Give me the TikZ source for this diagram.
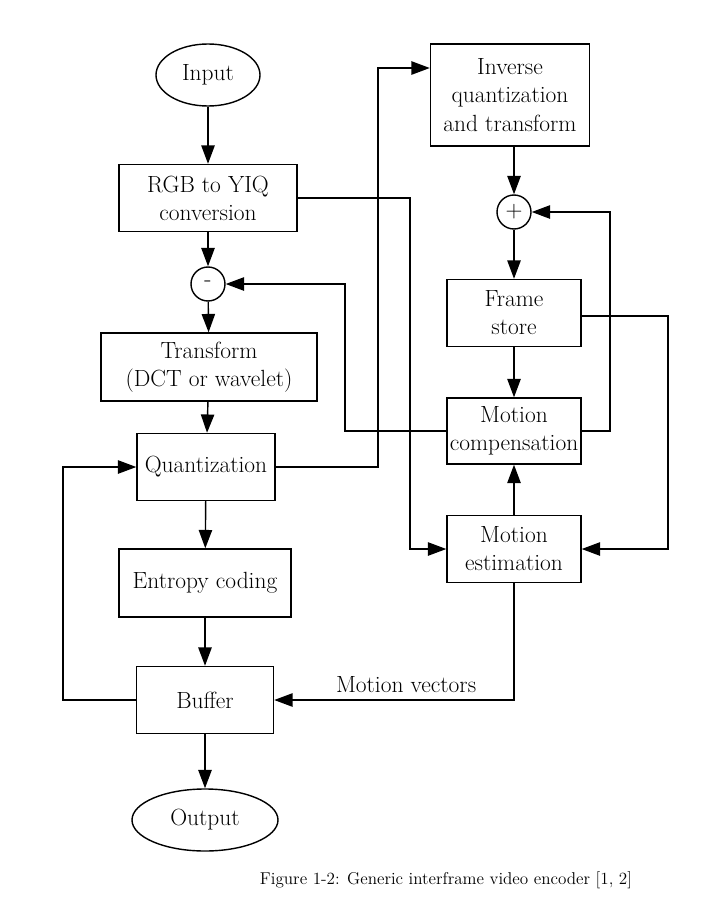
\documentclass[tikz,border=0pt]{standalone}
\usetikzlibrary{arrows.meta,shapes.geometric}
\begin{document}
\begin{tikzpicture}[x=0.03cm,y=-0.03cm,line width=1.2pt,
 every node/.style={font=\fontsize{20}{24}\selectfont},
 box/.style={draw,align=center,inner sep=0pt},
 el/.style={draw,ellipse,inner sep=0pt},
 circ/.style={draw,circle,minimum size=1.02cm,inner sep=0pt},
 ar/.style={-{Triangle[length=0.55cm,width=0.4cm]}}]
\useasboundingbox (0,0) rectangle (703,920);
\node[el,minimum width=3.12cm,minimum height=1.86cm] (in) at (208,75) {Input};
\node[box,minimum width=5.34cm,minimum height=2.01cm] (rgb) at (208,198) {RGB to YIQ\\conversion};
\node[circ] (minus) at (208,284) {-};
\node[box,minimum width=6.48cm,minimum height=2.04cm] (tr) at (209,367) {Transform\\(DCT or wavelet)};
\node[box,minimum width=4.14cm,minimum height=2.01cm] (q) at (206,467) {Quantization};
\node[box,minimum width=5.16cm,minimum height=2.04cm] (ent) at (205,583) {Entropy coding};
\node[box,minimum width=4.11cm,minimum height=2.01cm] (buf) at (205,700) {Buffer};
\node[el,minimum width=4.38cm,minimum height=1.86cm] (out) at (205,820) {Output};
\node[box,minimum width=4.77cm,minimum height=3.06cm] (iq) at (510,95) {Inverse\\quantization\\and transform};
\node[circ] (plus) at (514,212) {+};
\node[box,minimum width=4.02cm,minimum height=2.01cm] (fs) at (514,313) {Frame\\store};
\node[box,minimum width=4.02cm,minimum height=1.98cm] (mc) at (514,431) {Motion\\compensation};
\node[box,minimum width=4.02cm,minimum height=2.01cm] (me) at (514,549) {Motion\\estimation};
\node[font=\fontsize{14.6}{18}\selectfont] (cap) at (446,880) {Figure 1-2: Generic interframe video encoder [1, 2]};
\draw[ar] (in) -- (rgb);
\draw[ar] (rgb) -- (minus);
\draw[ar] (minus) -- (tr);
\draw[ar] (tr) -- (q);
\draw[ar] (q) -- (ent);
\draw[ar] (ent) -- (buf);
\draw[ar] (buf) -- (out);
\draw[ar] (iq.south -| plus) -- (plus);
\draw[ar] (plus) -- (fs);
\draw[ar] (fs) -- (mc);
\draw[ar] (me) -- (mc);
\draw[ar] (rgb.east) -- (410,198) -- (410,549) -- (me.west);
\draw[ar] (q.east) -- (378,467) -- (378,68) -- (iq.west |- 0,68);
\draw[ar] (mc.west) -- (345,431) -- (345,284) -- (minus.east);
\draw[ar] (mc.east) -- (610,431) -- (610,212) -- (plus.east);
\draw[ar] (fs.east |- 0,316) -- (668,316) -- (668,549) -- (me.east);
\draw[ar] (me.south) -- (514,700) -- (buf.east) node[pos=0.45,above=2pt] {Motion vectors};
\draw[ar] (buf.west) -- (63,700) -- (63,467) -- (q.west);
\end{tikzpicture}
\end{document}
